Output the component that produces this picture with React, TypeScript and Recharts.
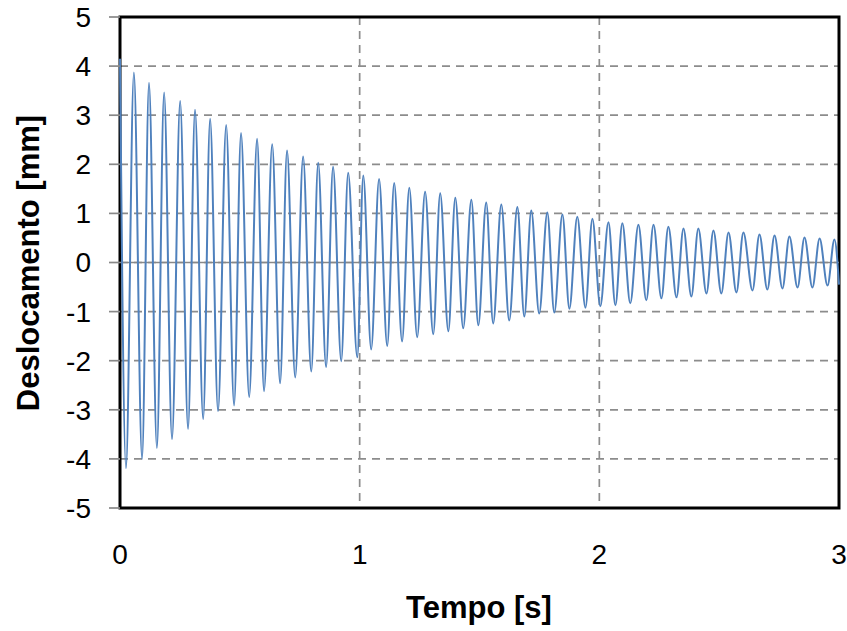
import React from "react";
import {
  LineChart,
  Line,
  XAxis,
  YAxis,
  CartesianGrid,
  ReferenceLine,
  ReferenceArea,
} from "recharts";

// positive peaks
const peakTimes = [
  0, 0.058, 0.121, 0.184, 0.251, 0.313, 0.376, 0.443, 0.505, 0.572, 0.635,
  0.697, 0.764, 0.827, 0.889, 0.952, 1.015, 1.081, 1.144, 1.207, 1.273, 1.336,
  1.399, 1.466, 1.528, 1.591, 1.658, 1.716, 1.783, 1.846, 1.908, 1.971, 2.038,
  2.096, 2.163, 2.226, 2.288, 2.351, 2.413, 2.476, 2.539, 2.601, 2.668, 2.731,
  2.793, 2.856, 2.919, 2.981,
];
const peakValues = [
  4.15, 3.87, 3.66, 3.46, 3.29, 3.11, 2.93, 2.8, 2.64, 2.52, 2.41, 2.28, 2.16,
  2.03, 1.95, 1.83, 1.77, 1.7, 1.62, 1.52, 1.44, 1.41, 1.32, 1.28, 1.22, 1.18,
  1.13, 1.06, 1.02, 0.98, 0.93, 0.89, 0.82, 0.8, 0.77, 0.77, 0.73, 0.69, 0.69,
  0.65, 0.61, 0.61, 0.57, 0.55, 0.53, 0.51, 0.49, 0.47,
];

// negative peaks
const troughTimes = [
  0.025, 0.092, 0.154, 0.217, 0.284, 0.347, 0.409, 0.476, 0.539, 0.601, 0.668,
  0.731, 0.798, 0.86, 0.923, 0.99, 1.048, 1.115, 1.177, 1.24, 1.307, 1.37,
  1.432, 1.495, 1.557, 1.624, 1.687, 1.749, 1.812, 1.875, 1.942, 2.004, 2.067,
  2.129, 2.196, 2.259, 2.322, 2.384, 2.447, 2.509, 2.572, 2.639, 2.701, 2.764,
  2.827, 2.889, 2.952,
];
const troughValues = [
  -4.19, -4.0, -3.78, -3.6, -3.39, -3.19, -3.03, -2.91, -2.74, -2.62, -2.46,
  -2.34, -2.22, -2.13, -2.01, -1.93, -1.77, -1.7, -1.61, -1.52, -1.46, -1.4,
  -1.34, -1.28, -1.24, -1.18, -1.1, -1.04, -1.02, -0.94, -0.92, -0.89, -0.87,
  -0.83, -0.77, -0.73, -0.71, -0.69, -0.63, -0.63, -0.61, -0.57, -0.55, -0.53,
  -0.51, -0.51, -0.47,
];

const endPoint = { t: 3.0, d: -0.45 };

const xTicks = [0, 1, 2, 3];
const yTicks = [-5, -4, -3, -2, -1, 0, 1, 2, 3, 4, 5];

const data = [
  ...peakTimes.map((t, i) => ({ t, d: peakValues[i] })),
  ...troughTimes.map((t, i) => ({ t, d: troughValues[i] })),
  endPoint,
].sort((a, b) => a.t - b.t);

const font = "'Liberation Sans', Arial, sans-serif";

export default function App() {
  return (
    <div style={{ position: "absolute", left: 0, top: 0 }}>
      <LineChart
        width={847}
        height={631}
        data={data}
        margin={{ top: 17, right: 8, left: 0, bottom: 0 }}
      >
        <CartesianGrid
          stroke="#8c8c8c"
          strokeWidth={1.7}
          strokeDasharray="8 6"
        />
        <XAxis
          dataKey="t"
          type="number"
          domain={[0, 3]}
          ticks={xTicks}
          axisLine={false}
          tickLine={false}
          tickSize={0}
          tickMargin={36}
          height={123}
          tick={{ fill: "#000", fontSize: 28, fontFamily: font }}
          label={{
            content: () => (
              <text
                x={479}
                y={607}
                textAnchor="middle"
                dominantBaseline="central"
                fontFamily={font}
                fontWeight="bold"
                fontSize={31}
                fill="#000"
              >
                Tempo [s]
              </text>
            ),
          }}
        />
        <YAxis
          type="number"
          domain={[-5, 5]}
          ticks={yTicks}
          width={120}
          axisLine={false}
          tickLine={{ stroke: "#888", strokeWidth: 1.7 }}
          tickSize={11}
          tickMargin={18}
          tick={{ fill: "#000", fontSize: 28, fontFamily: font }}
          label={{
            content: () => (
              <text
                x={28}
                y={263}
                transform="rotate(-90 28 263)"
                textAnchor="middle"
                dominantBaseline="central"
                fontFamily={font}
                fontWeight="bold"
                fontSize={31}
                fill="#000"
              >
                Deslocamento [mm]
              </text>
            ),
          }}
        />
        <ReferenceLine y={0} stroke="#888" strokeWidth={1.7} />
        <Line
          type="monotone"
          dataKey="d"
          stroke="#4f81bd"
          strokeWidth={2}
          dot={false}
          isAnimationActive={false}
        />
        <ReferenceArea
          x1={0}
          x2={3}
          y1={-5}
          y2={5}
          fill="none"
          stroke="#000"
          strokeWidth={3}
        />
      </LineChart>
    </div>
  );
}
